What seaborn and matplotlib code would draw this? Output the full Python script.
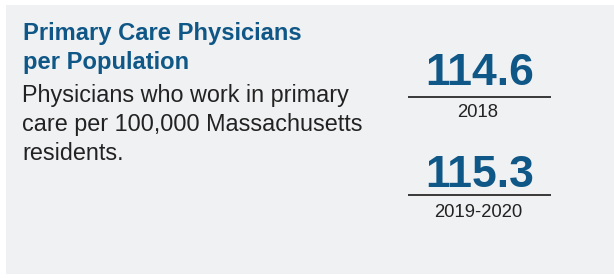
import matplotlib
matplotlib.use("Agg")
import matplotlib.pyplot as plt
import seaborn as sns
from matplotlib.patches import Rectangle

sns.set_theme(style="white")
plt.rcParams['font.family'] = ['Liberation Sans', 'DejaVu Sans']

# ---- data ----
title_lines = ["Primary Care Physicians", "per Population"]
body_lines = ["Physicians who work in primary",
              "care per 100,000 Massachusetts",
              "residents."]
values = ["114.6", "115.3"]
periods = ["2018", "2019-2020"]

BLUE = "#0f5786"
TEXT = "#222222"
BG = "#f0f1f3"

W, H = 614, 278
fig = plt.figure(figsize=(W / 100, H / 100), dpi=100, facecolor="white")
ax = fig.add_axes([0, 0, 1, 1])
ax.set_xlim(0, W)
ax.set_ylim(H, 0)
ax.axis("off")

ax.add_patch(Rectangle((6, 5), W - 6, 269, facecolor=BG, edgecolor="none"))

px = 72 / 100  # points per pixel

for i, t in enumerate(title_lines):
    ax.text(23, 40 + 28.5 * i, t, color=BLUE, fontsize=23.8 * px,
            fontweight="bold", va="baseline", ha="left")
for i, t in enumerate(body_lines):
    ax.text(22, 102 + 28.8 * i, t, color=TEXT, fontsize=23.4 * px,
            va="baseline", ha="left")

cx = 479.5
num_base = [85, 187]
line_y = [97, 195]
lab_base = [117, 217]
for v, p, nb, ly, lb in zip(values, periods, num_base, line_y, lab_base):
    ax.text(cx, nb, v, color=BLUE, fontsize=44.5 * px, fontweight="bold",
            ha="center", va="baseline")
    ax.hlines(ly, 408, 551, color="#1a1a1a", linewidth=1.2)
    ax.text(cx - 1.5, lb, p, color=TEXT, fontsize=18.5 * px,
            ha="center", va="baseline")

fig.savefig("out.png", dpi=100, facecolor="white")
